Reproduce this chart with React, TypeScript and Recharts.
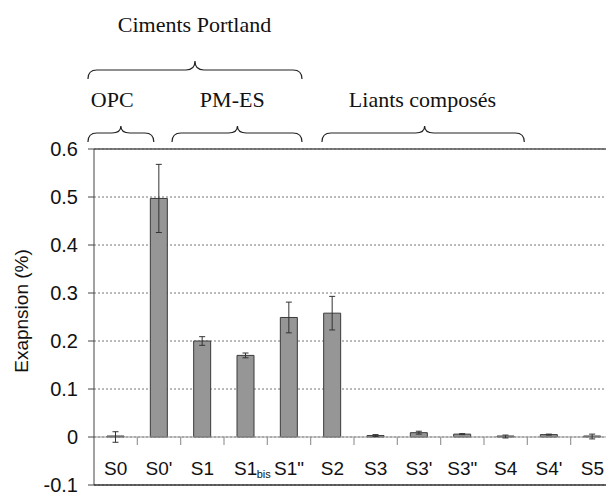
import {
  BarChart, Bar, XAxis, YAxis, CartesianGrid, ErrorBar, ReferenceLine,
} from 'recharts';

const CATEGORIES = ['S0', "S0'", 'S1', 'S1_bis', 'S1"', 'S2', 'S3', "S3'", 'S3"', 'S4', "S4'", 'S5'];
const EXPANSION = [0, 0.497, 0.2, 0.17, 0.249, 0.258, 0.003, 0.009, 0.006, 0.001, 0.005, 0.001];
const ERRORS = [0.011, 0.071, 0.009, 0.005, 0.032, 0.035, 0.002, 0.003, 0.001, 0.003, 0.001, 0.005];
const Y_TICKS = [-0.1, 0, 0.1, 0.2, 0.3, 0.4, 0.5, 0.6];

// group annotations above the plot (span in category units)
const GROUPS_TOP = [{ label: 'Ciments Portland', from: -0.14, to: 4.8, tip: 2.33, text: 2.32 }];
const GROUPS = [
  { label: 'OPC', from: -0.14, to: 1.38, tip: 0.62, text: 0.42 },
  { label: 'PM-ES', from: 1.8, to: 4.8, tip: 3.31, text: 3.19 },
  { label: 'Liants composés', from: 5.26, to: 9.93, tip: 7.63, text: 7.58 },
];

const data = CATEGORIES.map((name, i) => ({ name, value: EXPANSION[i], err: ERRORS[i] }));

const SANS = "'Liberation Sans', Arial, sans-serif";
const SERIF = "'Liberation Serif', 'Times New Roman', 'DejaVu Serif', serif";

function brace(xa: number, xb: number, xm: number, yEnd: number, yFlat: number, yTip: number) {
  const r = 9;
  return `M${xa},${yEnd} Q${xa},${yFlat} ${xa + r},${yFlat} L${xm - r},${yFlat} Q${xm},${yFlat} ${xm},${yTip} ` +
    `Q${xm},${yFlat} ${xm + r},${yFlat} L${xb - r},${yFlat} Q${xb},${yFlat} ${xb},${yEnd}`;
}

function GroupTick(props: any) {
  const { x, y, payload, index } = props;
  if (index !== 0) return null;
  const half = payload?.offset ?? 21.67;
  const band = half * 2;
  const left = x - half;
  const px = (u: number) => left + u * band;
  const textStyle = { fontFamily: SERIF, fontSize: 22 };
  return (
    <g>
      {GROUPS_TOP.map(g => (
        <g key={g.label}>
          <text x={px(g.text)} y={y - 117} textAnchor="middle" style={textStyle} fill="#111">{g.label}</text>
          <path d={brace(px(g.from), px(g.to), px(g.tip), y - 70, y - 79, y - 88)} fill="none" stroke="#222" strokeWidth={1.2} />
        </g>
      ))}
      {GROUPS.map(g => (
        <g key={g.label}>
          <text x={px(g.text)} y={y - 42} textAnchor="middle" style={textStyle} fill="#111">{g.label}</text>
          <path d={brace(px(g.from), px(g.to), px(g.tip), y - 7, y - 16, y - 23)} fill="none" stroke="#222" strokeWidth={1.2} />
        </g>
      ))}
    </g>
  );
}

function CategoryTick(props: any) {
  const { x, y, payload } = props;
  const [main, sub] = String(payload.value).split('_');
  return (
    <g>
      <text x={x} y={y - 10} textAnchor="middle" style={{ fontFamily: SANS, fontSize: 19 }} fill="#111">{main}</text>
      {sub && <text x={x + 11} y={y - 7} style={{ fontFamily: SANS, fontSize: 11 }} fill="#111">{sub}</text>}
    </g>
  );
}

function ValueTick(props: any) {
  const { x, y, payload } = props;
  return (
    <text x={x} y={y} dy={7} textAnchor="end" style={{ fontFamily: SANS, fontSize: 20 }} fill="#111">
      {payload.value}
    </text>
  );
}

function ZeroLine(props: any) {
  const { x1, y1, x2 } = props;
  if (x1 == null) return null;
  const step = (x2 - x1) / CATEGORIES.length;
  return (
    <g>
      <line x1={x1} y1={y1} x2={x2} y2={y1} stroke="#999" strokeWidth={1.2} />
      {CATEGORIES.map((c, i) => (
        <line key={c} x1={x1 + (i + 1) * step} y1={y1} x2={x1 + (i + 1) * step} y2={y1 + 8} stroke="#999" strokeWidth={1.2} />
      ))}
    </g>
  );
}

function YLabel(props: any) {
  const { viewBox } = props;
  const cx = viewBox.x + 21;
  const cy = viewBox.y + viewBox.height / 2 - 6;
  return (
    <text x={cx} y={cy} transform={`rotate(-90 ${cx} ${cy})`} textAnchor="middle" dominantBaseline="central"
      style={{ fontFamily: SANS, fontSize: 19 }} fill="#111">Exapnsion (%)</text>
  );
}

export default function App() {
  return (
    <div style={{ position: 'fixed', left: 0, top: 0, width: 606, height: 493, overflow: 'hidden', background: '#fff' }}>
      <BarChart width={614} height={493} data={data} margin={{ top: 0, right: 0, bottom: 0, left: 0 }} barSize={17}>
        <CartesianGrid vertical={false} stroke="#777" strokeDasharray="2 2" />
        <XAxis xAxisId="top" orientation="top" dataKey="name" height={149} interval={0}
          tickLine={false} tickSize={0} tickMargin={0} axisLine={{ stroke: '#555', strokeWidth: 1.5 }} tick={<GroupTick />} />
        <XAxis dataKey="name" height={8} interval={0} tickLine={false} tickSize={0} tickMargin={0}
          axisLine={{ stroke: '#333', strokeWidth: 1.5 }} tick={<CategoryTick />} />
        <YAxis domain={[-0.1, 0.6]} ticks={Y_TICKS} interval={0} width={94} tickSize={6} tickMargin={10}
          axisLine={{ stroke: '#444' }} tickLine={{ stroke: '#444' }}
          tick={<ValueTick />}
          label={(p: any) => <YLabel {...p} />} />
        <ReferenceLine y={0} shape={(p: any) => <ZeroLine {...p} />} />
        <Bar dataKey="value" fill="#969696" stroke="#3a3a3a" strokeWidth={1} minPointSize={1} isAnimationActive={false}>
          <ErrorBar dataKey="err" width={3} stroke="#333" strokeWidth={1} direction="y" />
        </Bar>
      </BarChart>
    </div>
  );
}
